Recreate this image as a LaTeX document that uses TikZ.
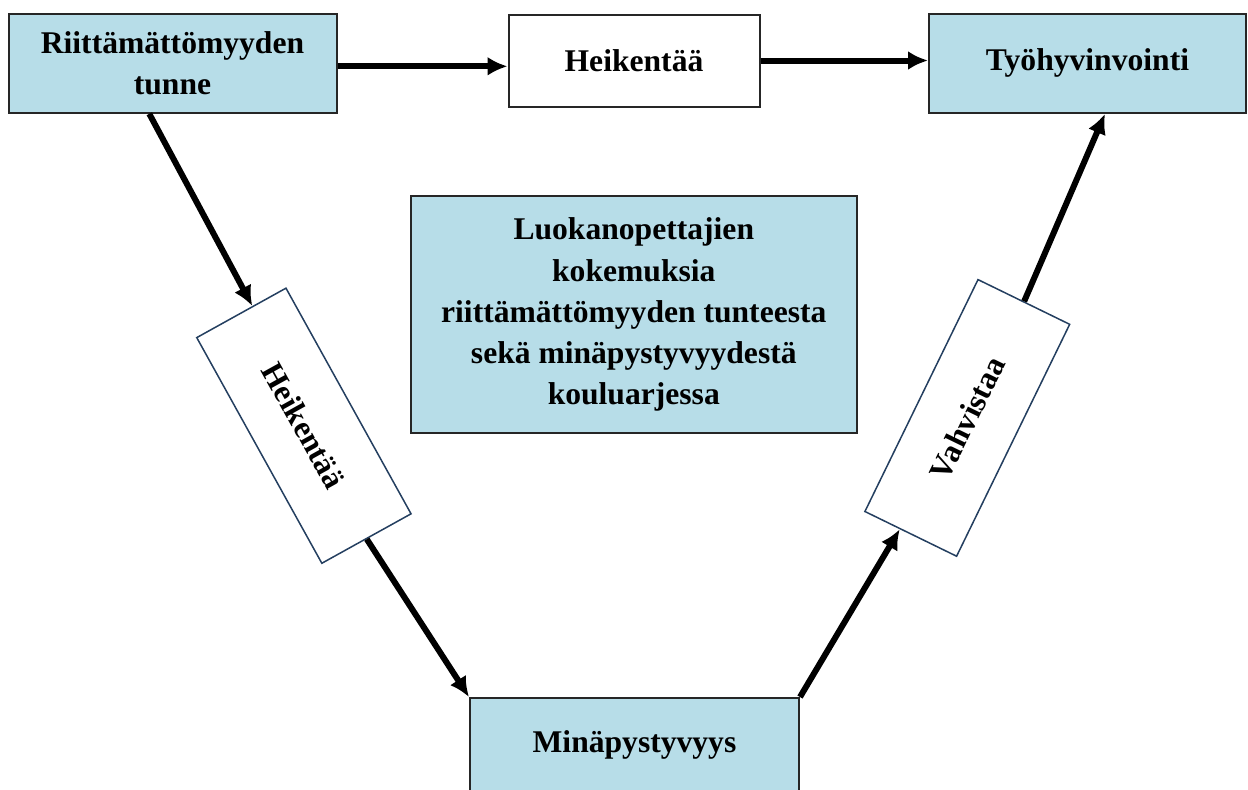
\documentclass[tikz,border=0pt]{standalone}
\usepackage{fontspec}
\setmainfont{Liberation Serif}
\usetikzlibrary{arrows.meta,calc}
\definecolor{boxblue}{HTML}{B7DDE8}
\definecolor{tiltline}{HTML}{243F60}
\begin{document}
\begin{tikzpicture}[x=0.5pt,y=-0.5pt,
	squarednode/.style={rectangle, draw=black!85, line width=1pt, inner sep=0pt, align=center, font=\fontsize{15.8pt}{20.6pt}\selectfont\bfseries},
	bluenode/.style={squarednode, fill=boxblue},
	tiltnode/.style={squarednode, draw=tiltline, line width=0.75pt, fill=white, minimum width=129pt, minimum height=51pt},
	>={Latex[length=10pt,width=9.5pt]}
	]
	\useasboundingbox (0,0) rectangle (1248,789);
	\path
	+(172.5,63.3)  node[bluenode, minimum width=164pt, minimum height=49.5pt]  (riitt) {Riittämättömyyden\\tunne}
	+(634,60.5)    node[squarednode, fill=white, minimum width=125.5pt, minimum height=46pt]  (heik1) {Heikentää}
	+(1087.5,63.3) node[bluenode, minimum width=158.5pt, minimum height=49.5pt]  (tyo) {Työhyvinvointi}
	+(633.8,314.7) node[bluenode, minimum width=223pt, minimum height=118.5pt]  (keski) {Luokanopettajien\\kokemuksia\\riittämättömyyden tunteesta\\sekä minäpystyvyydestä\\kouluarjessa}
	+(303.9,425.7) node[tiltnode, rotate=-61]  (heik2) {Heikentää}
	+(967.3,417.9) node[tiltnode, rotate=64]  (vahv) {Vahvistaa}
	+(634.5,745)   node[bluenode, minimum width=164.5pt, minimum height=47pt]  (mina) {Minäpystyvyys}
	;
	\draw[->, line width=3pt] ([yshift=-1.5pt]riitt.east) -- ([yshift=-1.5pt]riitt.east -| heik1.west);
	\draw[->, line width=3pt] (heik1.east) -- (heik1.east -| tyo.west);
	\draw[->, line width=3pt] ([xshift=-11.6pt]riitt.south) -- ($(heik2.west)!0.25!(heik2.north west)$);
	\draw[->, line width=3pt] (heik2.east) -- (mina.north west);
	\draw[->, line width=3pt] (mina.north east) -- ($(vahv.west)!0.23!(vahv.north west)$);
	\draw[->, line width=3pt] (vahv.east) -- ([xshift=8.75pt]tyo.south);
\end{tikzpicture}
\end{document}
